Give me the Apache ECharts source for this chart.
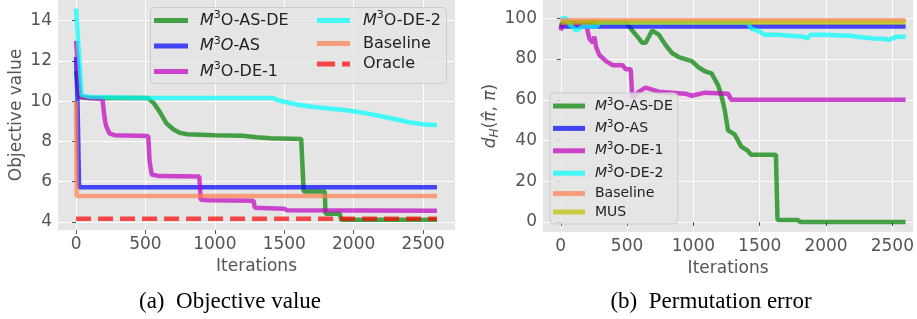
<!DOCTYPE html>
<html>
<head>
<meta charset="utf-8">
<script src="https://cdn.jsdelivr.net/npm/echarts@6/dist/echarts.min.js"></script>
<style>
  html, body { margin: 0; padding: 0; background: #fff; }
  #main { width: 917px; height: 319px; }
</style>
</head>
<body>
<div id="main"></div>
<script>
// tick values
const xTicks = [0, 500, 1000, 1500, 2000, 2500];
const objTicks = [4, 6, 8, 10, 12, 14];
const permTicks = [0, 20, 40, 60, 80, 100];

// (a) objective value, [iteration, value]
const objAsDe = [[0,11.5],[25,10.2],[100,10.15],[520,10.15],[560,9.9],[600,9.5],[650,8.9],[700,8.6],[750,8.42],[800,8.35],[1000,8.3],[1200,8.28],[1300,8.2],[1400,8.15],[1622,8.12],[1640,5.5],[1792,5.5],[1797,4.4],[1900,4.4],[1910,4.1],[2600,4.1]];
const objAs = [[0,12.2],[10,10.1],[18,10.05],[22,5.72],[2600,5.72]];
const objDe1 = [[0,13],[30,10.2],[100,10.15],[190,10.1],[205,9.2],[215,8.8],[240,8.4],[280,8.3],[520,8.27],[530,7],[545,6.35],[600,6.27],[888,6.25],[898,5.1],[950,5.07],[1278,5.05],[1288,4.7],[1498,4.65],[1520,4.57],[2600,4.55]];
const objDe2 = [[0,14.6],[40,10.3],[100,10.2],[500,10.15],[1420,10.15],[1450,10.05],[1500,9.97],[1600,9.82],[1700,9.72],[1800,9.65],[1900,9.58],[2000,9.5],[2100,9.38],[2200,9.25],[2300,9.1],[2400,8.95],[2500,8.85],[2600,8.8]];
const objBaseline = [[0,10],[5,5.28],[2600,5.28]];
const objOracle = [[0,4.15],[2600,4.15]];

// (b) permutation error, [iteration, d_H]
const permAsDe = [[0,95],[10,98],[100,98],[490,98],[540,94],[590,90],[614,88],[640,88],[689,94],[739,92],[789,87],[838,83],[888,81],[988,79],[1037,76],[1087,74],[1137,73],[1187,67],[1211,62],[1236,55],[1261,45],[1311,43],[1361,37],[1410,35],[1435,33],[1622,33],[1634,1],[1784,1],[1808,0],[2600,0]];
const permAs = [[0,97],[15,96],[2600,96]];
const permDe1 = [[0,94],[10,97],[60,98],[192,97],[216,90],[241,88],[254,91],[266,86],[291,82],[341,79],[390,77],[465,77],[490,75],[527,75],[540,61],[560,62],[590,64],[639,66],[739,64],[938,63],[988,62],[1087,63.5],[1261,63],[1286,60],[2600,60]];
const permDe2 = [[0,100],[40,100],[67,97],[117,94],[167,96],[266,96],[300,98],[1410,98],[1435,95],[1485,94],[1535,92],[1634,92],[1734,91.5],[1833,91],[1858,90],[1883,92],[1983,92],[2182,91.5],[2231,91],[2381,90],[2430,90],[2480,89.5],[2530,91],[2600,91]];
const permBaseline = [[0,99],[2600,99]];
const permMus = [[0,98],[2600,98]];

const FONT = 'DejaVu Sans';
const GREY = '#555555';
const DASH_ICON = 'path://M0,0H18V5H0Z M25,0H33V5H25Z';

function mkLine(name, data, color, xi, dashed) {
    return {
        name: name, type: 'line', data: data,
        xAxisIndex: xi, yAxisIndex: xi,
        symbol: 'none', animation: false,
        lineStyle: {color: color, width: 4.5, opacity: 0.7, type: dashed ? [15, 7] : 'solid'},
        itemStyle: {color: color, opacity: 0.7}
    };
}

function xAx(gi, min, max) {
    return {
        type: 'value', gridIndex: gi, min: min, max: max,
        name: 'Iterations', nameLocation: 'middle', nameGap: 21,
        nameTextStyle: {fontFamily: FONT, fontSize: 17, color: GREY},
        axisLine: {show: false},
        axisTick: {show: true, length: 4, lineStyle: {color: GREY}, customValues: xTicks},
        axisLabel: {fontFamily: FONT, fontSize: 17, color: GREY, margin: 6, customValues: xTicks,
                    formatter: v => String(v)},
        splitLine: {show: true, lineStyle: {color: '#ffffff', width: 1}}
    };
}

function yAx(gi, min, max, ticks, name, gap) {
    return {
        type: 'value', gridIndex: gi, min: min, max: max,
        name: name, nameLocation: 'middle', nameGap: gap,
        nameTextStyle: {
            fontFamily: FONT, fontSize: 17, color: GREY,
            rich: {
                i: {fontFamily: FONT, fontSize: 17, color: GREY, fontStyle: 'italic'},
                sub: {fontFamily: FONT, fontSize: 12, color: GREY, fontStyle: 'italic', padding: [8, 0, 0, 0]},
                n: {fontFamily: FONT, fontSize: 17, color: GREY}
            }
        },
        axisLine: {show: false},
        axisTick: {show: true, length: 4, lineStyle: {color: GREY}, customValues: ticks},
        axisLabel: {fontFamily: FONT, fontSize: 17, color: GREY, margin: 6, customValues: ticks},
        splitLine: {show: true, lineStyle: {color: '#ffffff', width: 1}}
    };
}

function richFor(size, lh, gap) {
    return {
        g: {width: gap},
        m: {fontFamily: FONT, fontSize: size, color: '#222', fontStyle: 'italic', lineHeight: lh},
        s: {fontFamily: FONT, fontSize: Math.round(size * 0.68), color: '#222', lineHeight: 10, padding: [0, 0, Math.round(size * 0.6), 0]},
        t: {fontFamily: FONT, fontSize: size, color: '#222', lineHeight: lh}
    };
}

function fmtLeft(name) {
    if (name === 'M3O-AS') return '{g|}{m|M}{s|3}{m|O}{t|-AS}';
    if (name.indexOf('M3O') === 0) return '{g|}{m|M}{s|3}{t|' + name.slice(2) + '}';
    return '{g|}{t|' + name + '}';
}
function fmtRight(name) {
    if (name.indexOf('M3O') === 0) return '{g|}{m|M}{s|3}{t|' + name.slice(2) + '}';
    return '{g|}{t|' + name + '}';
}

const chart = echarts.init(document.getElementById('main'), null, {renderer: 'canvas'});

const option = {
    backgroundColor: '#ffffff',
    animation: false,
    grid: [
        {left: 58, top: 0, width: 397, height: 230, backgroundColor: '#e5e5e5', show: true, borderWidth: 0},
        {left: 543, top: 0, right: 0, height: 232, backgroundColor: '#e5e5e5', show: true, borderWidth: 0}
    ],
    xAxis: [xAx(0, -130, 2730), xAx(1, -134, 2657)],
    yAxis: [
        yAx(0, 3.59, 15.03, objTicks, 'Objective value', 33),
        yAx(1, -4.9, 109, permTicks, '{i|d}{sub|H}{n|(}{i|π\u0302}{n|, }{i|π}{n|)}', 38)
    ],
    graphic: [
        {type: 'rect', left: 150, top: 7, z: 5,
         shape: {width: 296, height: 76, r: 4},
         style: {fill: 'rgba(229,229,229,0.8)', stroke: '#cccccc', lineWidth: 1}},
        {type: 'text', x: 230, y: 302, z: 10,
         style: {text: '(a)  Objective value', font: '23px "Liberation Serif"', fill: '#000',
                 textAlign: 'center', align: 'center', textVerticalAlign: 'middle', verticalAlign: 'middle'}},
        {type: 'text', x: 711, y: 302, z: 10,
         style: {text: '(b)  Permutation error', font: '23px "Liberation Serif"', fill: '#000',
                 textAlign: 'center', align: 'center', textVerticalAlign: 'middle', verticalAlign: 'middle'}}
    ],
    legend: [
        {data: [{name: 'M3O-AS-DE'}, {name: 'M3O-AS'}, {name: 'M3O-DE-1'}],
         orient: 'vertical', left: 154, top: 10, padding: 0, icon: 'rect',
         itemWidth: 34, itemHeight: 5, itemGap: 4.5, z: 6, formatter: fmtLeft,
         textStyle: {rich: richFor(16, 20, 7)}},
        {data: [{name: 'M3O-DE-2'}, {name: 'Baseline'}, {name: 'Oracle', icon: DASH_ICON}],
         orient: 'vertical', left: 317, top: 10, padding: 0, icon: 'rect',
         itemWidth: 33, itemHeight: 5, itemGap: 4.5, z: 6, formatter: fmtLeft,
         textStyle: {rich: richFor(16, 20, 8)}},
        {data: ['M3O-AS-DE', 'M3O-AS', 'M3O-DE-1', 'M3O-DE-2', 'Baseline', 'MUS'],
         orient: 'vertical', left: 550, top: 93, padding: [4, 5, 5, 3], icon: 'rect',
         itemWidth: 32, itemHeight: 5, itemGap: 4.4, formatter: fmtRight,
         backgroundColor: 'rgba(229,229,229,0.8)', borderColor: '#cccccc', borderWidth: 1, borderRadius: 4,
         textStyle: {rich: richFor(14, 18, 5)}}
    ],
    series: [
        mkLine('M3O-AS-DE', objAsDe, '#008000', 0),
        mkLine('M3O-AS', objAs, '#0000ff', 0),
        mkLine('M3O-DE-1', objDe1, '#bf00bf', 0),
        mkLine('M3O-DE-2', objDe2, '#00ffff', 0),
        mkLine('Baseline', objBaseline, '#ff7f50', 0),
        mkLine('Oracle', objOracle, '#ff0000', 0, true),
        mkLine('M3O-AS-DE', permAsDe, '#008000', 1),
        mkLine('M3O-AS', permAs, '#0000ff', 1),
        mkLine('M3O-DE-1', permDe1, '#bf00bf', 1),
        mkLine('M3O-DE-2', permDe2, '#00ffff', 1),
        mkLine('Baseline', permBaseline, '#ff7f50', 1),
        mkLine('MUS', permMus, '#bfbf00', 1)
    ]
};
chart.setOption(option);
</script>
</body>
</html>
